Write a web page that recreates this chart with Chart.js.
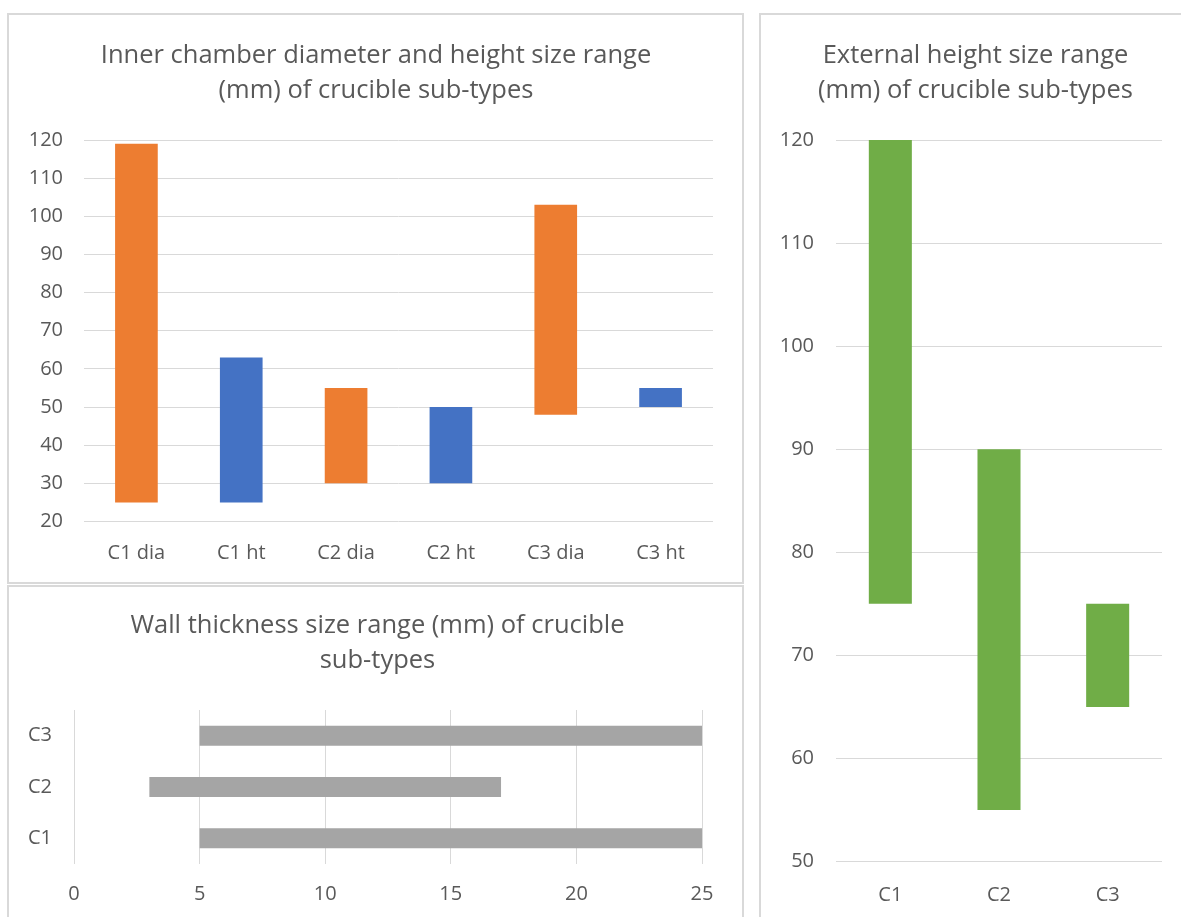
<!DOCTYPE html>
<html>
<head>
<meta charset="utf-8">
<title>Crucible sub-type size ranges</title>
<script src="https://cdn.jsdelivr.net/npm/chart.js@4/dist/chart.umd.min.js"></script>
<style>
  html, body { margin: 0; padding: 0; background: #ffffff; overflow: hidden; }
  body { width: 1181px; height: 917px; position: relative; }
  .panel { position: absolute; box-sizing: border-box; border: 2px solid #d9d9d9; background: #ffffff; }
  canvas { position: absolute; display: block; }
  .title {
    position: absolute; width: 640px; text-align: center;
    font-family: 'Open Sans', 'Noto Sans', sans-serif; font-size: 25.5px; line-height: 35px;
    color: #595959; white-space: nowrap;
  }
</style>
</head>
<body>
<div class="panel" style="left:7px; top:13px; width:737px; height:571px;"></div>
<div class="panel" style="left:7px; top:585px; width:737px; height:400px;"></div>
<div class="panel" style="left:759px; top:13px; width:440px; height:1000px;"></div>

<canvas id="inner" style="left:9px; top:15px; width:733px; height:567px;" width="733" height="567"></canvas>
<canvas id="wall" style="left:9px; top:587px; width:733px; height:330px;" width="733" height="330"></canvas>
<canvas id="external" style="left:761px; top:15px; width:420px; height:902px;" width="420" height="902"></canvas>

<div class="title" style="left:56px; top:35.5px;">Inner chamber diameter and height size range<br>(mm) of crucible sub-types</div>
<div class="title" style="left:57.5px; top:605.5px;">Wall thickness size range (mm) of crucible<br>sub-types</div>
<div class="title" style="left:655.5px; top:35.5px;">External height size range<br>(mm) of crucible sub-types</div>

<script>
// Inner chamber: diameter and height ranges (mm)
const innerCategories = ['C1 dia', 'C1 ht', 'C2 dia', 'C2 ht', 'C3 dia', 'C3 ht'];
const innerMin = [25, 25, 30, 30, 48, 50];
const innerMax = [119, 63, 55, 50, 103, 55];

// Wall thickness ranges (mm)
const wallCategories = ['C3', 'C2', 'C1'];
const wallMin = [5, 3, 5];
const wallMax = [25, 17, 25];

// External height ranges (mm)
const externalCategories = ['C1', 'C2', 'C3'];
const externalMin = [75, 55, 65];
const externalMax = [120, 90, 75];

const ORANGE = '#ed7d31';
const BLUE = '#4472c4';
const GREY = '#a5a5a5';
const GREEN = '#70ad47';
const TEXT = '#595959';
const GRID = '#d9d9d9';

Chart.defaults.font.family = "'Open Sans', 'Noto Sans', 'DejaVu Sans', sans-serif";
Chart.defaults.color = TEXT;
Chart.defaults.animation = false;
Chart.defaults.devicePixelRatio = 1;

const ranges = (lo, hi) => lo.map((v, i) => [v, hi[i]]);
const tickFont = { size: 20, lineHeight: 1.2 };
const noPlugins = { legend: { display: false }, tooltip: { enabled: false }, title: { display: false } };

// Inner chamber diameter / height (vertical floating bars)
new Chart(document.getElementById('inner'), {
  type: 'bar',
  data: {
    labels: innerCategories,
    datasets: [{
      data: ranges(innerMin, innerMax),
      backgroundColor: innerCategories.map(c => c.endsWith('dia') ? ORANGE : BLUE),
      categoryPercentage: 1,
      barPercentage: 0.407
    }]
  },
  options: {
    responsive: false,
    layout: { padding: { left: 0, right: 29, top: 125, bottom: 0 } },
    plugins: noPlugins,
    scales: {
      x: {
        grid: { display: false },
        border: { display: false },
        ticks: { font: tickFont, padding: 12, color: TEXT, maxRotation: 0 },
        afterFit: s => { s.height = 60.5; }
      },
      y: {
        min: 20, max: 120,
        grid: { color: GRID, lineWidth: 1, drawTicks: false },
        border: { display: false },
        ticks: { stepSize: 10, font: tickFont, padding: 21, color: TEXT },
        afterFit: s => { s.width = 75; }
      }
    }
  }
});

// Wall thickness (horizontal floating bars)
new Chart(document.getElementById('wall'), {
  type: 'bar',
  data: {
    labels: wallCategories,
    datasets: [{
      data: ranges(wallMin, wallMax),
      backgroundColor: GREY,
      categoryPercentage: 1,
      barPercentage: 0.39
    }]
  },
  options: {
    indexAxis: 'y',
    responsive: false,
    layout: { padding: { left: 0, right: 40, top: 123, bottom: 0 } },
    plugins: noPlugins,
    scales: {
      x: {
        min: 0, max: 25,
        grid: { color: GRID, lineWidth: 1, drawTicks: false },
        border: { display: false },
        ticks: { stepSize: 5, font: tickFont, padding: 18, color: TEXT, maxRotation: 0 },
        afterFit: s => { s.height = 53; }
      },
      y: {
        grid: { display: false, drawTicks: false },
        border: { display: false },
        ticks: { font: tickFont, padding: 22, color: TEXT },
        afterFit: s => { s.width = 65; }
      }
    }
  }
});

// External height (vertical floating bars)
new Chart(document.getElementById('external'), {
  type: 'bar',
  data: {
    labels: externalCategories,
    datasets: [{
      data: ranges(externalMin, externalMax),
      backgroundColor: GREEN,
      categoryPercentage: 1,
      barPercentage: 0.396
    }]
  },
  options: {
    responsive: false,
    layout: { padding: { left: 0, right: 19, top: 125, bottom: 0 } },
    plugins: noPlugins,
    scales: {
      x: {
        grid: { display: false },
        border: { display: false },
        ticks: { font: tickFont, padding: 13.5, color: TEXT, maxRotation: 0 },
        afterFit: s => { s.height = 55.5; }
      },
      y: {
        min: 50, max: 120,
        grid: { color: GRID, lineWidth: 1, drawTicks: false },
        border: { display: false },
        ticks: { stepSize: 10, font: tickFont, padding: 22, color: TEXT },
        afterFit: s => { s.width = 75; }
      }
    }
  }
});
</script>
</body>
</html>
